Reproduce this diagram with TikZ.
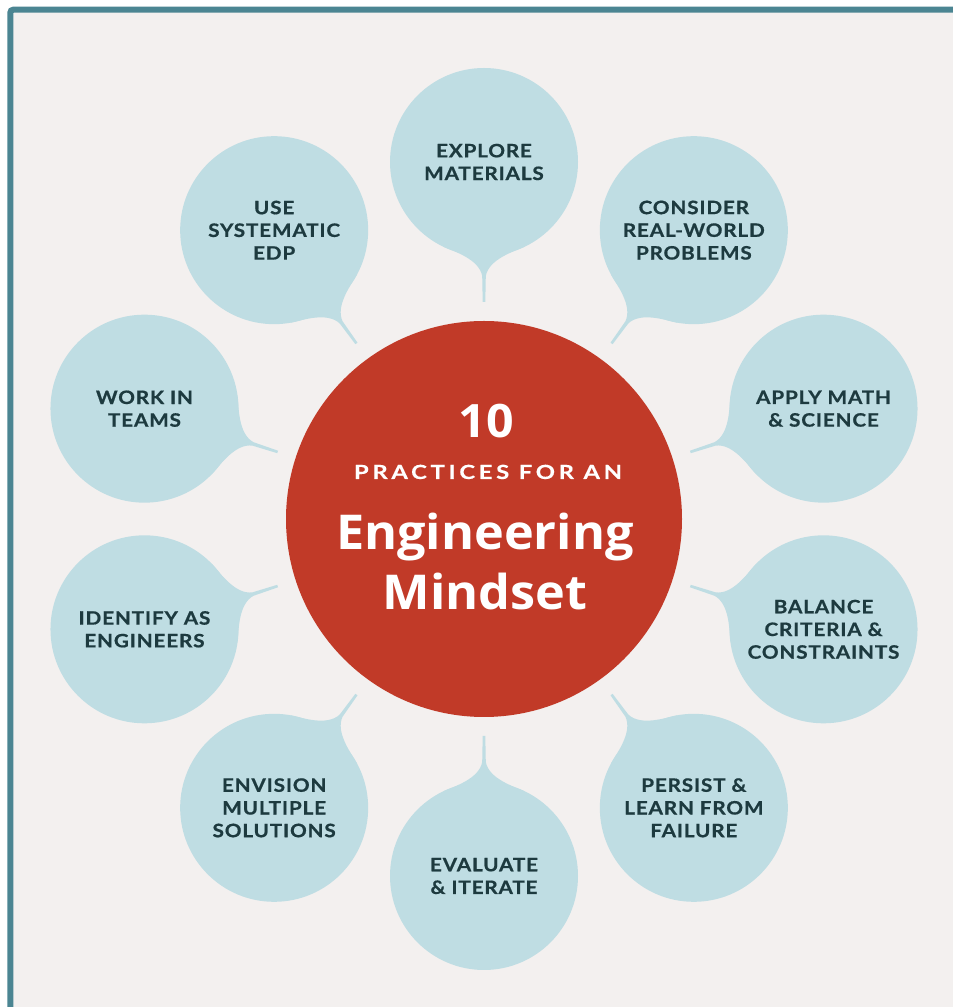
\documentclass[tikz,border=0pt]{standalone}
\usepackage{fontspec}
\setmainfont{Lato}
\newfontfamily\bubfont[LetterSpace=4.5,FakeStretch=1.12,FakeBold=0.7]{Lato}
\newfontfamily\headfont[FakeStretch=1.05]{Open Sans}
\newfontfamily\spacedfont[LetterSpace=19,FakeStretch=1.22,FakeBold=0.4]{Lato}
\usetikzlibrary{calc}
\definecolor{bgc}{HTML}{F3F0EF}
\definecolor{framec}{HTML}{4B8592}
\definecolor{redc}{HTML}{C13A28}
\definecolor{bubc}{HTML}{BFDDE3}
\definecolor{txtc}{HTML}{1D3A3F}
\tikzset{
  bubble/.style={circle, fill=bubc, minimum size=188pt, inner sep=0pt, text=txtc,
    font=\bubfont\bfseries\fontsize{18.5}{22.7}\selectfont, align=center},
  tail/.style={fill=bubc},
  centertext/.style={text=white, anchor=base, inner sep=0pt}
}
\begin{document}
\begin{tikzpicture}[x=1pt,y=1pt]
\useasboundingbox (0,0) rectangle (953,1007);
\clip (0,0) rectangle (953,1007);
\fill[white] (0,0) rectangle (953,1007);
\draw[line width=6pt, draw=framec, fill=bgc, rounded corners=3pt] (10.3,-30) rectangle (990,997.3);
\coordinate (C) at (484,488);
\node[circle, fill=redc, minimum size=396pt, inner sep=0pt] (c) at (C) {};
\foreach \i/\t in {0/{EXPLORE\\MATERIALS}, 1/{CONSIDER\\REAL-WORLD\\PROBLEMS}, 2/{APPLY MATH\\\& SCIENCE}, 3/{BALANCE\\CRITERIA \&\\CONSTRAINTS}, 4/{PERSIST \&\\LEARN FROM\\FAILURE}, 5/{EVALUATE\\\& ITERATE}, 6/{ENVISION\\MULTIPLE\\SOLUTIONS}, 7/{IDENTIFY AS\\ENGINEERS}, 8/{WORK IN\\TEAMS}, 9/{USE\\SYSTEMATIC\\EDP}} {
  \pgfmathsetmacro\ang{90-36*\i}
  \begin{scope}[shift={($(C)+(\ang:357)$)}, rotate={\ang+180}]
    \fill[tail] (84.5,41) .. controls (89.5,30) and (97,5) .. (114,1.8) -- (140,1.3) -- (140,-1.3) -- (114,-1.8) .. controls (97,-5) and (89.5,-30) .. (84.5,-41) -- cycle;
  \end{scope}
  \node[bubble] (b\i) at ($(C)+(\ang:357)$) {\t};
}
\node[centertext, font=\headfont\bfseries\fontsize{46}{46}\selectfont] (n10) at (486,569) {10};
\node[centertext, font=\spacedfont\bfseries\fontsize{19.5}{20}\selectfont] (pr) at (488,528) {PRACTICES FOR AN};
\node[centertext, font=\headfont\bfseries\fontsize{48}{48}\selectfont] (eng) at (485,457) {Engineering};
\node[centertext, font=\headfont\bfseries\fontsize{48}{48}\selectfont] (mind) at (485,397) {Mindset};
\end{tikzpicture}
\end{document}
